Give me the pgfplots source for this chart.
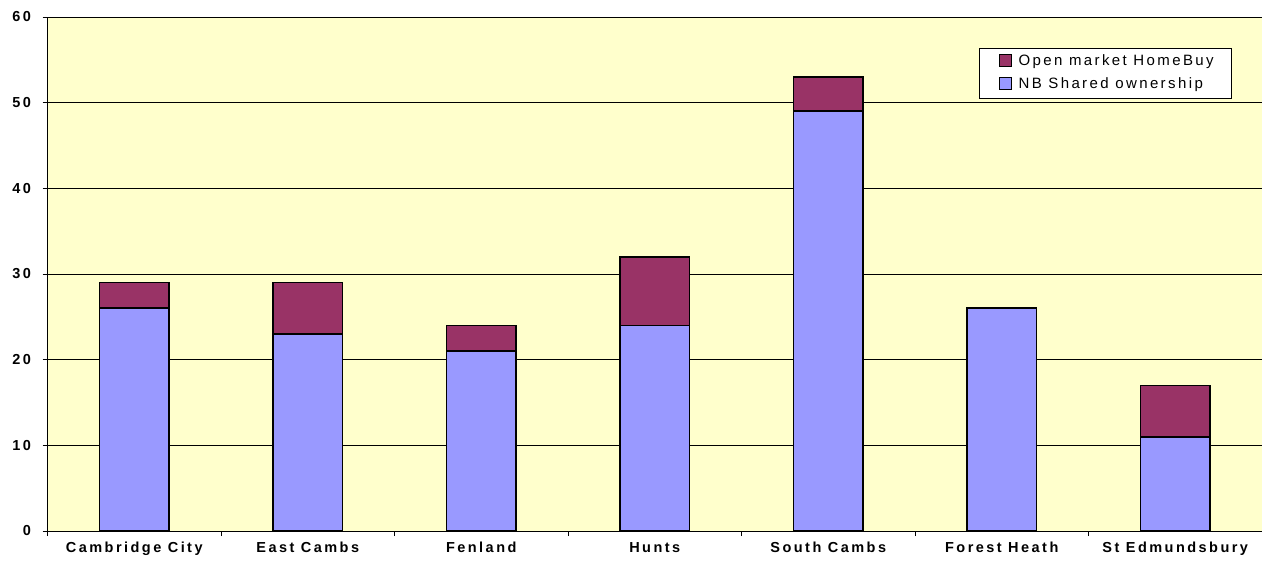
\documentclass[border=0pt]{standalone}
\usepackage{fontspec}
\setmainfont{Liberation Sans}
\newfontfamily\tickfont[LetterSpace=17]{Liberation Sans}
\newfontfamily\legfont[LetterSpace=16]{Liberation Sans}
\usepackage{pgfplots}
\pgfplotsset{compat=1.18}
\definecolor{bgY}{HTML}{FFFFCC}
\definecolor{barB}{HTML}{9999FF}
\definecolor{barM}{HTML}{993366}
\begin{document}
\begin{tikzpicture}
\begin{axis}[name=ax,
  scale only axis, width=1214.5bp, height=514bp,
  xmin=-0.5, xmax=6.5, ymin=0, ymax=60,
  axis background/.style={fill=bgY},
  axis lines=left, axis line style={black, line width=0.6bp, -},
  ybar stacked, bar width=0.4,
  xtick={-0.5,0.5,...,6.5}, x tick label as interval,
  xticklabels={Cambridge City,East Cambs,Fenland,Hunts,South Cambs,Forest Heath,St Edmundsbury},
  ytick={0,10,...,60},
  ymajorgrids, grid style={black, line width=0.6bp},
  tick align=outside, major tick length=5bp,
  tick style={black, line width=0.6bp},
  /pgf/number format/assume math mode=true,
  ticklabel style={font=\tickfont\bfseries\fontsize{14.5bp}{17bp}\selectfont},
  xticklabel style={text height=11bp, text depth=4bp, yshift=-2bp},
  yticklabel style={xshift=-8bp},
  legend style={at={(0.9753,0.9397)}, anchor=north east, draw=black, line width=0.6bp, fill=white,
    font=\legfont\fontsize{15bp}{18bp}\selectfont, row sep=8bp, inner xsep=15bp, inner ysep=5.5bp,
    nodes={text height=11bp, text depth=4bp, inner xsep=3bp, inner ysep=0bp},
    legend cell align=left},
  legend image code/.code={\path (0bp,0bp) (20bp,0bp); \draw[#1, draw=black, line width=0.8bp] (5bp,-4.5bp) rectangle (17bp,7.5bp);},
  reverse legend,
]
\addplot[fill=barB, draw=black, line width=1.6bp] coordinates {(0,26) (1,23) (2,21) (3,24) (4,49) (5,26) (6,11)};
\addlegendentry{NB Shared ownership}
\addplot[fill=barM, draw=black, line width=1.6bp] coordinates {(0,3) (1,6) (2,3) (3,8) (4,4) (5,0) (6,6)};
\addlegendentry{Open market HomeBuy}
\end{axis}
\pgfresetboundingbox
\path ([xshift=-47.5bp,yshift=-32bp]ax.south west) rectangle ([yshift=17bp]ax.north east);
\end{tikzpicture}
\end{document}
